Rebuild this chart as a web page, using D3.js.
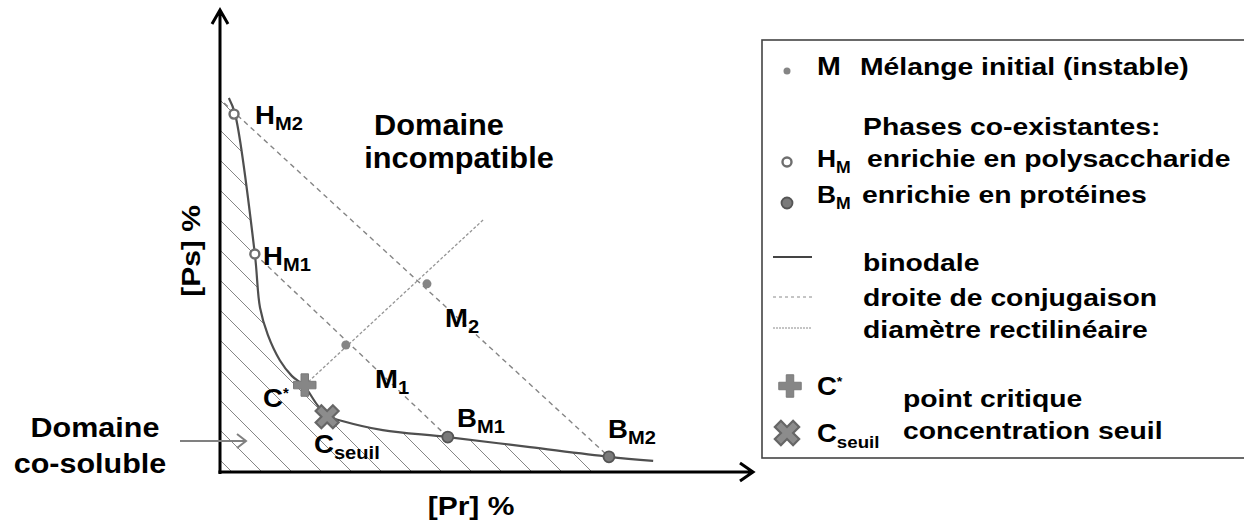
<!DOCTYPE html>
<meta charset="utf-8">
<script src="https://d3js.org/d3.v7.min.js"></script>
<style>
  body { margin: 0; background: #fff; }
  text { font-family: "Liberation Sans", Arial, sans-serif; font-weight: bold; fill: #000; }
</style>
<div id="chart"></div>
<script>

// ---- data (arbitrary % units, 0..100 on both axes) ----
// binodal curve, from the polysaccharide-rich end down to the protein-rich end
const binodal = [
  [1.7, 81.3], [2.9, 77.8], [6.7, 47.4], [7.7, 35.7], [9.2, 29.8], [11.5, 24.3],
  [13.8, 20.9], [16.2, 18.7], [18.7, 14.6], [20.6, 12.2], [23.5, 11.1], [31.3, 9.1],
  [43.8, 7.6], [59.6, 5.4], [74.8, 3.3], [83.3, 2.4]
];
// initial mixtures
const mixNames = ["M1", "M2"];
const mixPr = [24.2, 39.8];
const mixPs = [27.6, 40.9];
// coexisting phases (H = polysaccharide rich, B = protein rich)
const phaseH = [[6.7, 47.4], [2.7, 77.8]];
const phaseB = [[43.8, 7.6], [74.8, 3.3]];
// tie lines (droites de conjugaison)
const tieLines = [
  [[6.7, 47.4], [43.8, 7.6]],
  [[0.8, 80.2], [74.8, 3.3]]
];
// rectilinear diameter
const diameter = [[16.3, 18.9], [50.6, 54.8]];
// critical point and threshold concentration
const critical = [16.3, 18.9];
const seuil = [20.6, 12.0];

const legendLabels = [
  "Mélange initial (instable)", "Phases co-existantes:", "enrichie en polysaccharide",
  "enrichie en protéines", "binodale", "droite de conjugaison", "diamètre rectilinéaire",
  "point critique", "concentration seuil"
];

// ---- setup ----
const W = 1244, H = 524;
const svg = d3.select("#chart").append("svg").attr("width", W).attr("height", H);

const x = d3.scaleLinear().domain([0, 100]).range([220, 740]);
const y = d3.scaleLinear().domain([0, 100]).range([472, 12]);
const x0 = x(0), y0 = y(0);

const binLine = d3.line().x(d => x(d[0])).y(d => y(d[1])).curve(d3.curveCatmullRom.alpha(0.5));

// text helper: parts = [[string, "sub"|"sup"|undefined], ...]
function label(g, px, py, parts, size, subSize, sx, anchor) {
  const t = g.append("text")
    .attr("transform", `translate(${px},${py}) scale(${sx},1)`)
    .attr("text-anchor", anchor || "start")
    .style("font-size", size + "px");
  let shift = 0;
  parts.forEach(p => {
    const want = p[1] === "sub" ? 6 : p[1] === "sup" ? -9 : 0;
    t.append("tspan")
      .attr("dy", want - shift)
      .style("font-size", (p[1] ? subSize : size) + "px")
      .text(p[0]);
    shift = want;
  });
  return t;
}

// ---- hatching of the co-soluble domain ----
const defs = svg.append("defs");
const lastPt = binodal[binodal.length - 1];
defs.append("clipPath").attr("id", "solClip")
  .append("path")
  .attr("d", binLine(binodal) + `L${x(lastPt[0])},${y0}L${x0},${y0}L${x0},${y(binodal[0][1])}Z`);

const hatch = [];
for (let c = -120; c < y0 - x0; c += 30) {
  let ex = y0 - c, ey = y0;
  if (ex > 600) { ex = 600; ey = 600 + c; }
  hatch.push([x0, x0 + c, ex, ey]);
}
svg.append("g").attr("clip-path", "url(#solClip)")
  .selectAll("line").data(hatch).join("line")
    .attr("x1", d => d[0]).attr("y1", d => d[1])
    .attr("x2", d => d[2]).attr("y2", d => d[3])
    .attr("stroke", "#858585").attr("stroke-width", 1);

// ---- tie lines and diameter ----
svg.append("g").selectAll("line").data(tieLines).join("line")
  .attr("x1", d => x(d[0][0])).attr("y1", d => y(d[0][1]))
  .attr("x2", d => x(d[1][0])).attr("y2", d => y(d[1][1]))
  .attr("stroke", "#858585").attr("stroke-width", 1.4).attr("stroke-dasharray", "5,4");

svg.append("line")
  .attr("x1", x(diameter[0][0])).attr("y1", y(diameter[0][1]))
  .attr("x2", x(diameter[1][0])).attr("y2", y(diameter[1][1]))
  .attr("stroke", "#959595").attr("stroke-width", 1.3).attr("stroke-dasharray", "3,2");

// ---- binodal ----
svg.append("path").attr("d", binLine(binodal))
  .attr("fill", "none").attr("stroke", "#4f4f4f").attr("stroke-width", 2.2);

// ---- axes ----
svg.append("path")
  .attr("d", `M${x0},${y0 + 2}V10M${x0 - 8},24L${x0},10L${x0 + 8},24`)
  .attr("fill", "none").attr("stroke", "#000").attr("stroke-width", 3);
svg.append("path")
  .attr("d", `M${x0 - 1.5},${y0}H753M740,${y0 - 9}L753,${y0}L740,${y0 + 9}`)
  .attr("fill", "none").attr("stroke", "#000").attr("stroke-width", 3);

label(svg, 471, 515, [["[Pr] %"]], 25, 18, 1.2, "middle");
label(svg, 0, 0, [["[Ps] %"]], 25, 18, 1.2, "middle")
  .attr("transform", "translate(200,251) rotate(-90) scale(1.2,1)");

// ---- markers ----
const cross = d3.symbol().type(d3.symbolCross);

function drawPlus(g, px, py) {
  g.append("path").attr("d", cross.size(280)())
    .attr("transform", `translate(${px},${py})`)
    .attr("fill", "#868686").attr("stroke", "#7a7a7a").attr("stroke-width", 1);
}
function drawX(g, px, py, s) {
  g.append("path").attr("d", cross.size(s)())
    .attr("transform", `translate(${px},${py}) rotate(45)`)
    .attr("fill", "#8c8c8c").attr("stroke", "#666").attr("stroke-width", 2.2);
}
function drawH(g, px, py) {
  g.append("circle").attr("cx", px).attr("cy", py).attr("r", 4.5)
    .attr("fill", "#fff").attr("stroke", "#6e6e6e").attr("stroke-width", 2.4);
}
function drawB(g, px, py) {
  g.append("circle").attr("cx", px).attr("cy", py).attr("r", 5.5)
    .attr("fill", "#7a7a7a").attr("stroke", "#555").attr("stroke-width", 1.8);
}
function drawM(g, px, py, r) {
  g.append("circle").attr("cx", px).attr("cy", py).attr("r", r)
    .attr("fill", "#858585");
}

mixPr.forEach((v, i) => drawM(svg, x(v), y(mixPs[i]), 4.5));
phaseH.forEach(d => drawH(svg, x(d[0]), y(d[1])));
phaseB.forEach(d => drawB(svg, x(d[0]), y(d[1])));
drawPlus(svg, x(critical[0]), y(critical[1]));
drawX(svg, x(seuil[0]), y(seuil[1]), 330);

// ---- point labels ----
const big = 26, small = 19, sxl = 1.06;
label(svg, 255, 124, [["H"], ["M2", "sub"]], big, small, sxl);
label(svg, 263, 265, [["H"], ["M1", "sub"]], big, small, sxl);
label(svg, 375, 388, [["M"], ["1", "sub"]], big, small, sxl);
label(svg, 445, 327, [["M"], ["2", "sub"]], big, small, sxl);
label(svg, 457, 427, [["B"], ["M1", "sub"]], big, small, sxl);
label(svg, 608, 438, [["B"], ["M2", "sub"]], big, small, sxl);
label(svg, 263, 407, [["C"], ["*", "sup"]], big, 14, sxl);
label(svg, 314, 453, [["C"], ["seuil", "sub"]], big, small, sxl);

// ---- domain labels ----
label(svg, 439, 135, [["Domaine"]], 29, 18, 1.06, "middle");
label(svg, 459, 168, [["incompatible"]], 29, 18, 1.06, "middle");
label(svg, 95, 437, [["Domaine"]], 27, 18, 1.13, "middle");
label(svg, 90, 473, [["co-soluble"]], 27, 18, 1.13, "middle");

svg.append("path")
  .attr("d", "M180,441H246M237,434L246,441L237,448")
  .attr("fill", "none").attr("stroke", "#808080").attr("stroke-width", 2);

// ---- legend ----
const lg = svg.append("g");
lg.append("rect").attr("x", 762).attr("y", 40).attr("width", 500).attr("height", 418)
  .attr("fill", "#fff").attr("stroke", "#444").attr("stroke-width", 1.6);

const lf = 24, lsx = 1.18;
drawM(lg, 787, 71, 3.5);
label(lg, 817, 75, [["M"]], 26, 18, 1.1);
label(lg, 860, 75, [[legendLabels[0]]], lf, 18, lsx);

label(lg, 863, 135, [[legendLabels[1]]], lf, 18, lsx);
drawH(lg, 787, 162);
label(lg, 817, 167, [["H"], ["M", "sub"]], lf, 16, 1.1);
label(lg, 867, 167, [[legendLabels[2]]], lf, 18, lsx);
drawB(lg, 787, 203);
label(lg, 817, 203, [["B"], ["M", "sub"]], lf, 16, 1.1);
label(lg, 862, 203, [[legendLabels[3]]], lf, 18, lsx);

lg.append("line").attr("x1", 773).attr("x2", 812).attr("y1", 257).attr("y2", 257)
  .attr("stroke", "#444").attr("stroke-width", 2);
label(lg, 863, 271, [[legendLabels[4]]], lf, 18, lsx);
lg.append("line").attr("x1", 773).attr("x2", 812).attr("y1", 297).attr("y2", 297)
  .attr("stroke", "#8a8a8a").attr("stroke-width", 1).attr("stroke-dasharray", "3,3");
label(lg, 863, 306, [[legendLabels[5]]], lf, 18, lsx);
lg.append("line").attr("x1", 773).attr("x2", 812).attr("y1", 328).attr("y2", 328)
  .attr("stroke", "#8a8a8a").attr("stroke-width", 1).attr("stroke-dasharray", "2,1");
label(lg, 863, 338, [[legendLabels[6]]], lf, 18, lsx);

drawPlus(lg, 790, 386);
label(lg, 817, 395, [["C"], ["*", "sup"]], 25, 13, 1.1);
label(lg, 903, 407, [[legendLabels[7]]], lf, 18, lsx);
drawX(lg, 787, 433, 370);
label(lg, 817, 442, [["C"], ["seuil", "sub"]], 25, 17, 1.1);
label(lg, 903, 439, [[legendLabels[8]]], lf, 18, lsx);

</script>
